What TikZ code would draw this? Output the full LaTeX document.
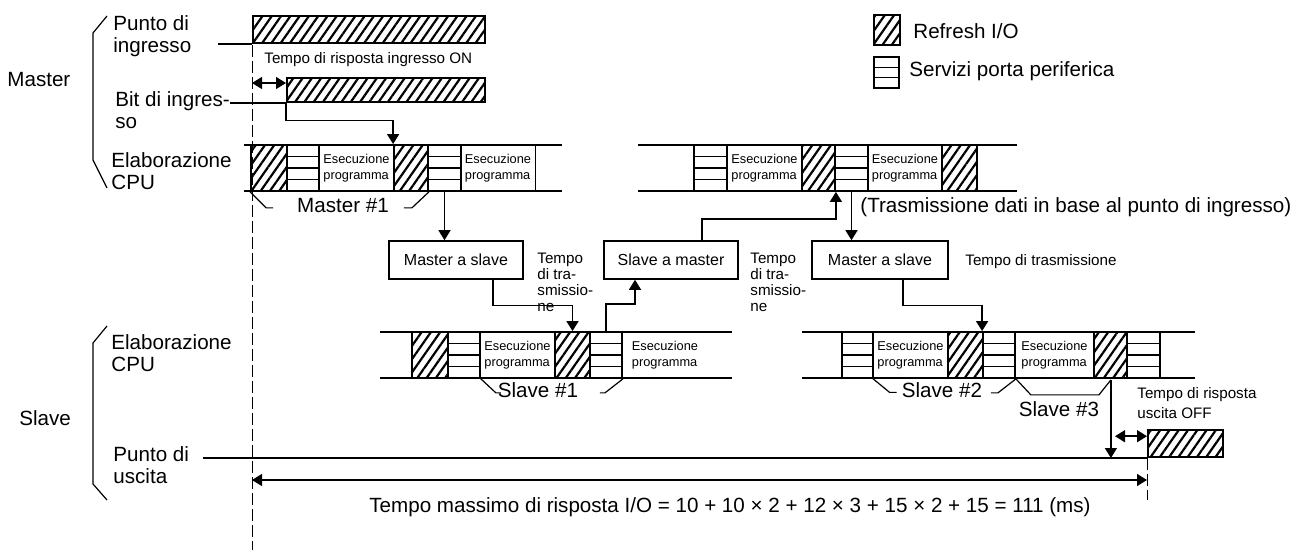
\documentclass[tikz,border=0pt]{standalone}
\usepackage{fontspec}
\setmainfont{Liberation Sans}
\setsansfont{Liberation Sans}
\usetikzlibrary{arrows.meta,positioning,calc,patterns.meta}

\begin{document}
\begin{tikzpicture}[
  x=0.5pt, y=-0.5pt,
  font=\sffamily,
  lbl/.style={font=\sffamily\fontsize{10.3}{11}\selectfont, align=left, inner sep=0pt},
  sml/.style={font=\sffamily\fontsize{7.6}{8}\selectfont, align=left, inner sep=0pt},
  exe/.style={font=\sffamily\fontsize{6.4}{8.2}\selectfont, align=left, inner sep=0pt,
    minimum height=23pt},
  rfr/.style={draw, line width=0.9pt, inner sep=0pt, minimum height=23pt,
    pattern={Lines[angle=55, distance=3.8pt, line width=1.1pt]}},
  psv/.style={draw, line width=0.9pt, inner sep=0pt, minimum height=23pt,
    path picture={
      \foreach \f in {0.25,0.5,0.75}
        \draw[line width=0.9pt]
          ($(path picture bounding box.south west)!\f!(path picture bounding box.north west)$) --
          ($(path picture bounding box.south east)!\f!(path picture bounding box.north east)$);
    }},
  lgp/.style={draw, line width=0.9pt, inner sep=0pt,
    path picture={
      \foreach \f in {0.333,0.667}
        \draw[line width=0.7pt]
          ($(path picture bounding box.south west)!\f!(path picture bounding box.north west)$) --
          ($(path picture bounding box.south east)!\f!(path picture bounding box.north east)$);
    }},
  msg/.style={draw, line width=0.8pt, inner sep=0pt, minimum width=67pt,
    minimum height=19pt, font=\sffamily\fontsize{8}{9}\selectfont},
  rowline/.style={line width=0.8pt},
  flow/.style={-{Triangle[length=5pt, width=6pt]}, line width=0.7pt},
  dspan/.style={{Triangle[length=5pt, width=6pt]}-{Triangle[length=5pt, width=6pt]},
    line width=0.7pt},
  brk/.style={line width=0.6pt},
  tline/.style={line width=0.5pt, dash pattern=on 6pt off 2pt},
]
\useasboundingbox (0,0) rectangle (1306,550);

% ================= legend ==========================================
\node[rfr, minimum width=13pt, minimum height=15pt, anchor=north west] (lgr) at (873,14) {};
\node[lbl, anchor=west] (lgrt) at (913,31) {Refresh I/O};
\node[lgp, minimum width=12.5pt, minimum height=15.5pt, anchor=north west] (lgs) at (873,56) {};
\node[lbl, anchor=west] (lgst) at (909,71) {Servizi porta periferica};

% ================= left labels =====================================
\node[lbl, anchor=west] (mlab) at (7,80) {Master};
\node[lbl, anchor=west] (pin) at (113,36) {Punto di\\ingresso};
\node[lbl, anchor=west] (bin) at (115,110) {Bit di ingres-\\so};
\node[lbl, anchor=west] (mcpu) at (111,171) {Elaborazione\\CPU};
\draw[brk] (107,16) -- (93,33) -- (93,160) -- (107,188);

\node[lbl, anchor=west] (slab) at (19,418) {Slave};
\node[lbl, anchor=west] (scpu) at (111,353) {Elaborazione\\CPU};
\node[lbl, anchor=west] (pout) at (113,465) {Punto di\\uscita};
\draw[brk] (107,326) -- (93,343) -- (93,484) -- (107,500);

% time origin
\coordinate (t0) at (252,45);
\coordinate (t1) at (252,550);
\draw[tline] (t0) -- (t1);

% ================= input point and input bit =======================
\coordinate (pin0) at (218,42);
\node[rfr, minimum width=116pt, minimum height=13.5pt, anchor=north west] (pinbar) at (252,15) {};
\draw[rowline] (pin0 |- pinbar.south) -- (pinbar.south west);

\node[rfr, minimum width=99pt, minimum height=12pt, anchor=north west] (binbar) at (286,77) {};
\draw[rowline] (bin.east |- binbar.south) -- (binbar.south west);
\draw[dspan] ($(t0 |- binbar.north)+(0,6)$) -- ($(binbar.north west)+(0,6)$);
\node[sml, anchor=west] (ton) at (264,60) {Tempo di risposta ingresso ON};

% ================= master CPU =====================================
\draw[rowline] (244,145) -- (562,145) (244,191) -- (562,191);
\draw[rowline] (638,145) -- (1017,145) (638,191) -- (1017,191);
\foreach \n/\a/\b in {mr1a/251/287, mr1b/394/428, mr2a/802/835, mr2b/942/977}
  \node[rfr, minimum width={(\b-\a)*0.5pt}] (\n) at ({(\a+\b)/2},168) {};
\foreach \n/\a/\b in {mp1a/287/319, mp1b/428/461, mp2a/694/727, mp2b/835/868}
  \node[psv, minimum width={(\b-\a)*0.5pt}] (\n) at ({(\a+\b)/2},168) {};
\foreach \n/\a/\b in {me1a/319/394, me1b/461/535, me2a/727/802, me2b/868/942}
  \node[exe, minimum width={(\b-\a)*0.5pt}] (\n) at ({(\a+\b)/2},168) {Esecuzione\\programma};
\draw[rowline] (me1b.north east) -- (me1b.south east);

\node[lbl] (mst1) at (343,206) {Master \#1};
\draw[brk] (mr1a.south west) -- ++(16,16) -- ++(7,0);
\draw[brk] (mr1b.south east) -- ++(-17,16) -- ++(-8,0);

\node[lbl, anchor=west] (trx) at (860,207) {(Trasmissione dati in base al punto di ingresso)};

% ================= transmissions ===================================
\node[msg] (mas1) at (456,260) {Master a slave};
\node[msg] (sam) at (671,260) {Slave a master};
\node[msg, minimum width=68pt] (mas2) at (880,260) {Master a slave};

\node[sml, anchor=west] (tx1) at (537,282) {Tempo\\di tra-\\smissio-\\ne};
\node[sml, anchor=west] (tx2) at (750,282) {Tempo\\di tra-\\smissio-\\ne};
\node[sml, anchor=west] (tx3) at (965,262) {Tempo di trasmissione};

% ================= slave CPU ======================================
\draw[rowline] (380,332) -- (732,332) (380,378) -- (732,378);
\draw[rowline] (802,332) -- (1195,332) (802,378) -- (1195,378);
\foreach \n/\a/\b in {sr1a/412/448, sr1b/555/590, sr2a/948/983, sr2b/1094/1127}
  \node[rfr, minimum width={(\b-\a)*0.5pt}] (\n) at ({(\a+\b)/2},355) {};
\foreach \n/\a/\b in {sp1a/448/480, sp1b/590/622, sp2a/842/873, sp2b/983/1015, sp2c/1127/1160}
  \node[psv, minimum width={(\b-\a)*0.5pt}] (\n) at ({(\a+\b)/2},355) {};
\foreach \n/\a/\b in {se1a/480/555, se1b/625/705, se2a/873/948, se2b/1015/1094}
  \node[exe, minimum width={(\b-\a)*0.5pt}] (\n) at ({(\a+\b)/2},355) {Esecuzione\\programma};

\node[lbl] (sl1) at (538,390) {Slave \#1};
\draw[brk] (sp1a.south east) -- ++(15,14) -- ++(5,0);
\draw[brk] (sp1b.south east) -- ++(-18,14) -- ++(-5,0);
\node[lbl] (sl2) at (942,390) {Slave \#2};
\draw[brk] (se2a.south west) -- ++(17,14) -- ++(7,0);
\draw[brk] (sp2b.south east) -- ++(-18,14) -- ++(-7,0);
\node[lbl] (sl3) at (1059,409) {Slave \#3};
\draw[brk] (sp2b.south east) -- ++(15,16) -- ++(68,0) -- ++(12,-15) coordinate (s3e);

% ================= output point ===================================
\coordinate (pu0) at (203,458);
\node[rfr, minimum width=37.5pt, minimum height=13.5pt, anchor=south west] (outbar) at (1147,458) {};
\draw[rowline] (pu0 |- outbar.south) -- (outbar.south west);
\draw[flow] (s3e) -- (s3e |- outbar.south);
\draw[dspan] ($(outbar.north west)+(-32,7)$) -- ($(outbar.north west)+(0,7)$);
\node[sml, font=\sffamily\fontsize{7.6}{10}\selectfont, anchor=west] (toff) at (1137,403)
  {Tempo di risposta\\uscita OFF};
\draw[tline] (outbar.south west) -- ++(0,42) coordinate (t2);

% ================= data flow ======================================
\draw[flow] (binbar.south west) -- ++(0,18) -| (mr1b.north west);
\draw[flow] (mp1b.south) -- (mp1b.south |- mas1.north);
\draw[flow] ($(mas1.south)+(37,0)$) -- ++(0,26) -| (sr1b.north);
\draw[flow] (sp1b.north) -- ++(0,-27) -| ($(sam.south)+(-36,0)$);
\draw[flow] ($(sam.north)+(31,0)$) -- ++(0,-21) -| (mr2a.south east);
\draw[flow] (mp2b.south) -- (mp2b.south |- mas2.north);
\draw[flow] ($(mas2.south)+(23,0)$) -- ++(0,26) -| (sp2b.north west);

% ================= total response time ============================
\path (t0) ++(0,435) coordinate (tA);
\draw[dspan] (tA) -- (tA -| outbar.south west);
\node[lbl] (tmax) at (730,507)
  {Tempo massimo di risposta I/O = 10 + 10 × 2 + 12 × 3 + 15 × 2 + 15 = 111 (ms)};

\end{tikzpicture}
\end{document}
